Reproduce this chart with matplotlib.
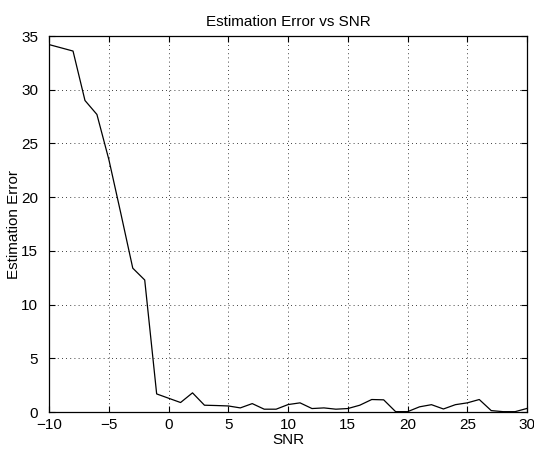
import matplotlib
matplotlib.use('Agg')
import matplotlib.pyplot as plt
import numpy as np

plt.rcParams['font.family'] = ['Liberation Sans', 'DejaVu Sans']

# SNR values and estimation error
snr = np.arange(-10, 31)
err = [34.2, 33.9, 33.6, 29.0, 27.7, 23.5, 18.5, 13.4, 12.3, 1.7,
       1.3, 0.9, 1.8, 0.65, 0.62, 0.58, 0.4, 0.8, 0.28, 0.28,
       0.71, 0.87, 0.34, 0.4, 0.28, 0.34, 0.65, 1.18, 1.15, 0.05,
       0.05, 0.5, 0.7, 0.3, 0.7, 0.87, 1.18, 0.15, 0.05, 0.05,
       0.35]

xticks = [-10, -5, 0, 5, 10, 15, 20, 25, 30]
yticks = [0, 5, 10, 15, 20, 25, 30, 35]

fig = plt.figure(figsize=(5.34, 4.5), dpi=100)
ax = fig.add_axes([0.092, 0.084, 0.895, 0.836])
ax.plot(snr, err, color='black', linewidth=0.9)
ax.set_xlim(-10, 30)
ax.set_ylim(0, 35)
ax.set_xticks(xticks)
ax.set_yticks(yticks)
ax.tick_params(direction='in', labelsize=11, length=4, top=True, right=True)
ax.tick_params(axis='y', pad=8)
ax.tick_params(axis='x', pad=4)
ax.grid(True, color='black', linestyle=(0, (1, 4)), linewidth=0.6)
ax.set_xlabel('SNR', fontsize=11, labelpad=1)
ax.set_ylabel('Estimation Error', fontsize=11, labelpad=0)
ax.set_title('Estimation Error vs SNR', fontsize=11, pad=7)
for s in ax.spines.values():
    s.set_linewidth(0.9)

fig.savefig('out.png', dpi=100)
